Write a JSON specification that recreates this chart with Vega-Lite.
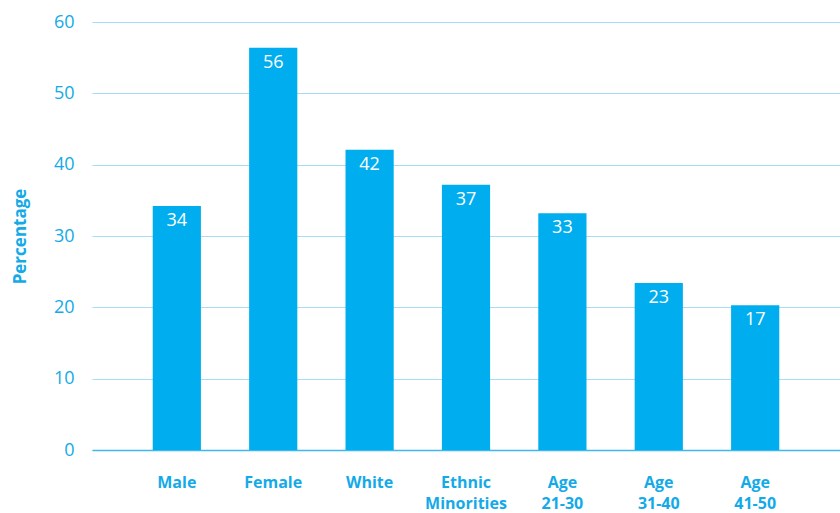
{
  "$schema": "https://vega.github.io/schema/vega-lite/v6.json",
  "width": 748,
  "height": 428,
  "autosize": {"type": "none"},
  "padding": {"left": 92, "top": 22, "right": 0, "bottom": 63},
  "background": "white",
  "config": {
    "view": {"stroke": null},
    "font": "Open Sans"
  },
  "data": {
    "values": [
      {"group": "Male", "value": 34.2, "label": "34"},
      {"group": "Female", "value": 56.4, "label": "56"},
      {"group": "White", "value": 42.1, "label": "42"},
      {"group": "Ethnic Minorities", "value": 37.2, "label": "37"},
      {"group": "Age 21-30", "value": 33.2, "label": "33"},
      {"group": "Age 31-40", "value": 23.4, "label": "23"},
      {"group": "Age 41-50", "value": 20.3, "label": "17"}
    ]
  },
  "encoding": {
    "x": {
      "field": "group",
      "type": "nominal",
      "sort": null,
      "scale": {"paddingInner": 0.5, "paddingOuter": 0.63},
      "axis": {
        "title": null,
        "labelAngle": 0,
        "labelExpr": "split(datum.value, ' ')",
        "labelFont": "Open Sans",
        "labelFontSize": 16,
        "labelFontWeight": "bold",
        "labelColor": "#14aae8",
        "labelLineHeight": 21,
        "labelPadding": 24,
        "ticks": false,
        "domainColor": "#3fb9ec",
        "domainWidth": 1.5,
        "grid": false
      }
    },
    "y": {
      "field": "value",
      "type": "quantitative",
      "scale": {"domain": [0, 60], "nice": false},
      "axis": {
        "title": "Percentage",
        "titleFont": "Open Sans",
        "titleFontSize": 17,
        "titleFontWeight": "bold",
        "titleColor": "#14aae8",
        "titlePadding": 24,
        "values": [0, 10, 20, 30, 40, 50, 60],
        "labelFont": "Open Sans",
        "labelFontSize": 18,
        "labelColor": "#14aae8",
        "labelPadding": 18,
        "ticks": false,
        "domain": false,
        "grid": true,
        "gridColor": "#a6dcf4",
        "gridWidth": 1.2
      }
    }
  },
  "layer": [
    {"mark": {"type": "bar", "color": "#00aeef"}},
    {
      "mark": {"type": "text", "color": "white", "fontSize": 18, "baseline": "top", "dy": 6, "font": "Open Sans"},
      "encoding": {"text": {"field": "label"}}
    }
  ]
}
